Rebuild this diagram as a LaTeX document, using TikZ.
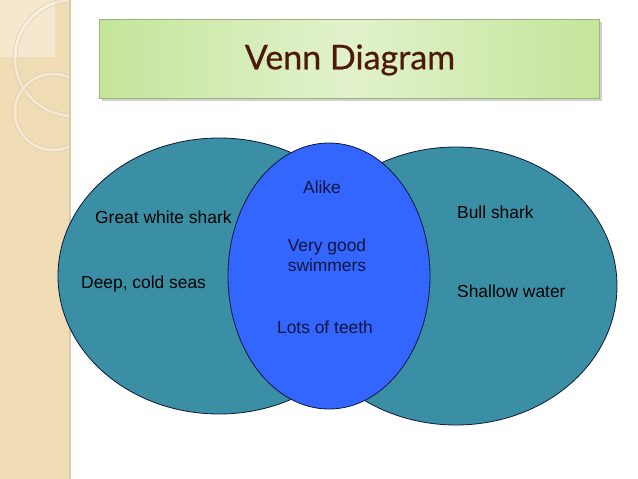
\documentclass[tikz,border=0pt]{standalone}
\usepackage{fontspec}
\setmainfont{Liberation Sans}
\newfontfamily\titlefont[FakeBold=0.6]{Lato}
\definecolor{strip}{RGB}{240,221,182}
\definecolor{stripedge}{RGB}{218,203,172}
\definecolor{stripLight}{RGB}{245,232,206}
\definecolor{teal}{RGB}{58,143,165}
\definecolor{midblue}{RGB}{51,102,255}
\definecolor{outline}{RGB}{12,24,60}
\definecolor{greenedge}{RGB}{196,229,154}
\definecolor{greenmid}{RGB}{226,242,204}
\definecolor{titlebrown}{RGB}{78,26,10}
\definecolor{navytext}{RGB}{20,20,60}
\tikzset{
  setellipse/.style={draw=outline, line width=0.8pt},
  lbl/.style={font=\fontsize{17.4}{20}\selectfont, text=black, inner sep=0pt},
  midlbl/.style={font=\fontsize{17.4}{20}\selectfont, text=navytext, inner sep=0pt, align=center},
  ring/.style={draw=white, draw opacity=0.35, line width=3pt},
  ringedge/.style={draw=stripedge, line width=0.5pt}
}
\begin{document}
\begin{tikzpicture}[x=1pt,y=-1pt]
\useasboundingbox (0,0) rectangle (638,479);
\fill[white] (0,0) rectangle (638,479);
% left strip
\fill[strip] (0,0) rectangle (70,479);
\fill[stripLight] (0,0) rectangle (55,57);
\draw[stripedge, line width=1.5pt] (70,0) -- (70,479);
\begin{scope}
  \clip (0,0) rectangle (69,479);
  \draw[ring] (73,58) circle[radius=58];
  \draw[ringedge] (73,58) circle[radius=60];
  \draw[ringedge] (73,58) circle[radius=56];
  \draw[ring] (53,112) circle[radius=38];
  \draw[ringedge] (53,112) circle[radius=40];
  \draw[ringedge] (53,112) circle[radius=36];
\end{scope}
% title box
\fill[gray!60, opacity=0.6] (102,22) rectangle (602,101);
\shade[left color=greenedge, right color=greenedge, middle color=greenmid, draw=greenedge!80!black, line width=0.4pt]
  (99,19) rectangle (599,98);
\node (title) [font=\titlefont\fontsize{34}{38}\selectfont, text=titlebrown] at (350,60) {Venn Diagram};
% ellipses
\draw[setellipse, fill=teal] (219,276) ellipse[x radius=161, y radius=138];
\draw[setellipse, fill=teal] (456,286) ellipse[x radius=161, y radius=139];
\draw[setellipse, fill=midblue] (329,276) ellipse[x radius=101, y radius=133];
% labels
\node (gws) [lbl, anchor=west] at (95,217) {Great white shark};
\node (deep) [lbl, anchor=west] at (81,284) {Deep, cold seas};
\node (bull) [lbl, anchor=west] at (457,212) {Bull shark};
\node (shallow) [lbl, anchor=west] at (457,291) {Shallow water};
\node (alike) [midlbl] at (322,187) {Alike};
\node (swim) [midlbl] at (327,255) {Very good\\swimmers};
\node (teeth) [midlbl] at (325,327) {Lots of teeth};
\end{tikzpicture}
\end{document}
